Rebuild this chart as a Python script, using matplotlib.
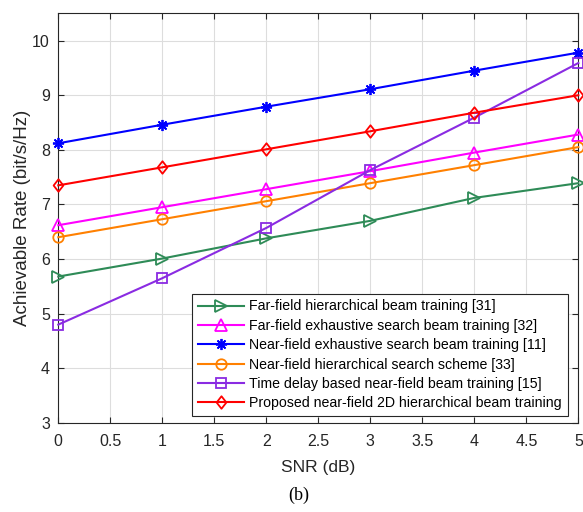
import numpy as np
import matplotlib.pyplot as plt
from matplotlib.path import Path

plt.rcParams['font.family'] = ['Liberation Sans', 'DejaVu Sans']

snr = [0, 1, 2, 3, 4, 5]

far_hier = [5.68, 6.01, 6.38, 6.70, 7.12, 7.39]
far_exh = [6.62, 6.95, 7.28, 7.61, 7.95, 8.28]
near_exh = [8.12, 8.46, 8.79, 9.11, 9.45, 9.78]
near_hier = [6.40, 6.73, 7.06, 7.39, 7.72, 8.05]
time_delay = [4.80, 5.65, 6.57, 7.63, 8.59, 9.59]
proposed = [7.35, 7.68, 8.01, 8.34, 8.68, 9.00]

labels = [
    'Far-field hierarchical beam training [31]',
    'Far-field exhaustive search beam training [32]',
    'Near-field exhaustive search beam training [11]',
    'Near-field hierarchical search scheme [33]',
    'Time delay based near-field beam training [15]',
    'Proposed near-field 2D hierarchical beam training',
]

# MATLAB-style diamond (a bit wider than matplotlib's thin 'd')
diamond = Path([(0, 1), (0.78, 0), (0, -1), (-0.78, 0), (0, 1)],
               [Path.MOVETO, Path.LINETO, Path.LINETO, Path.LINETO, Path.CLOSEPOLY])

fig = plt.figure(figsize=(5.83, 5.12), dpi=100)
ax = fig.add_axes([0.100, 0.174, 0.892, 0.800])

styles = [
    (far_hier, '#2E8B57', '>', 'none', 8),
    (far_exh, '#FF00FF', '^', 'none', 8),
    (near_exh, '#0000FF', (8, 2, 0), '#0000FF', 8),
    (near_hier, '#FF8000', 'o', 'none', 7.5),
    (time_delay, '#8A2BE2', 's', 'none', 6.5),
    (proposed, '#FF0000', diamond, 'none', 9),
]

for (vals, color, mk, face, ms), lab in zip(styles, labels):
    ax.plot(snr, vals, color=color, marker=mk, markerfacecolor=face,
            markeredgecolor=color, markersize=ms, linewidth=1.5,
            markeredgewidth=1.3, label=lab, clip_on=False, zorder=3)

ax.set_xlim(0, 5)
ax.set_ylim(3, 10.5)
ax.set_xticks(np.arange(0, 5.01, 0.5))
ax.set_xticklabels(['0', '0.5', '1', '1.5', '2', '2.5', '3', '3.5', '4', '4.5', '5'])
ax.set_yticks(range(3, 11))
ax.grid(True, color='#DDDDDD', linewidth=0.8)
ax.set_axisbelow(True)
ax.tick_params(direction='in', top=True, right=True, labelsize=11.5,
               colors='#262626', length=4, pad=6)
ax.tick_params(axis='x', pad=8)
for sp in ax.spines.values():
    sp.set_color('#262626')
    sp.set_linewidth(0.8)

ax.set_xlabel('SNR (dB)', fontsize=12.5, color='#262626', labelpad=8)
ax.set_ylabel('Achievable Rate (bit/s/Hz)', fontsize=13.5, color='#262626',
              labelpad=1)

leg = ax.legend(loc='lower right', bbox_to_anchor=(0.980, 0.016),
                fontsize=10.2, frameon=True, fancybox=False,
                edgecolor='#262626', borderaxespad=0, handlelength=3.3,
                labelspacing=0.38, borderpad=0.42, handletextpad=0.35,
                framealpha=1)
leg.get_frame().set_linewidth(0.8)

fig.text(0.513, 0.033, '(b)', fontsize=13, family='Liberation Serif',
         ha='center', va='center')

fig.savefig('out.png', dpi=100)
